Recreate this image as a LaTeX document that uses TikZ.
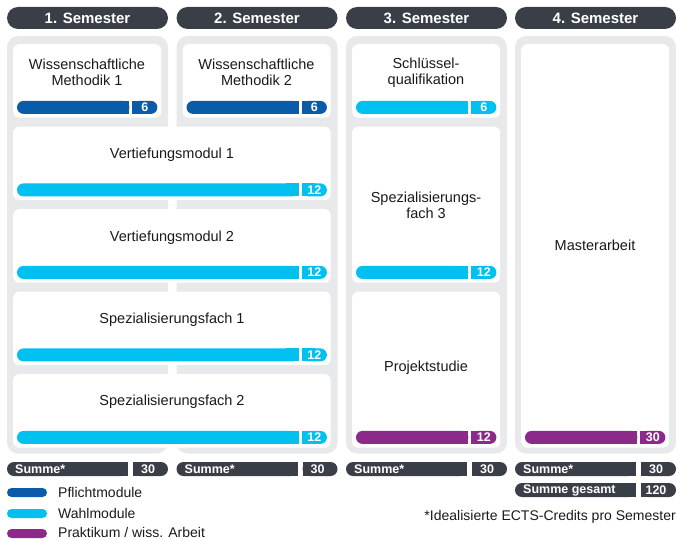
\documentclass[tikz,border=0pt]{standalone}
\usepackage{fontspec}
\setmainfont{Liberation Sans}
\definecolor{headgray}{HTML}{3A3F47}
\definecolor{panelgray}{HTML}{E8E9EB}
\definecolor{pflicht}{HTML}{0A5CA8}
\definecolor{wahl}{HTML}{00C0F0}
\definecolor{praktikum}{HTML}{8C2A8C}
\definecolor{cardtext}{HTML}{1A1A1A}
\tikzset{
  panel/.style={fill=panelgray, rounded corners=11pt},
  card/.style={fill=white, rounded corners=6pt, inner sep=0pt, anchor=north west},
  modtext/.style={align=center, text=cardtext, font=\fontsize{14.5}{15.7}\selectfont, inner sep=0pt},
  credit/.style={text=white, font=\bfseries\fontsize{12.5}{12.5}\selectfont, inner sep=0pt},
  headtext/.style={text=white, font=\bfseries\fontsize{15}{15}\selectfont, inner sep=0pt},
  sumtext/.style={text=white, font=\bfseries\fontsize{12.5}{12.5}\selectfont, inner sep=0pt},
  legtext/.style={text=cardtext, font=\fontsize{14}{14}\selectfont, inner sep=0pt, anchor=base west}
}
% credit bar at the foot of a card
\newcommand{\ectsbar}[3]{%
  \fill[#2, rounded corners=6.5pt] ([shift={(4pt,4pt)}]#1.south west) rectangle ([shift={(-32pt,17pt)}]#1.south east);
  \fill[#2] ([shift={(-45pt,4pt)}]#1.south east) rectangle ([shift={(-32pt,17pt)}]#1.south east);
  \fill[#2, rounded corners=6.5pt] ([shift={(-29pt,4pt)}]#1.south east) rectangle ([shift={(-4pt,17pt)}]#1.south east);
  \fill[#2] ([shift={(-29pt,4pt)}]#1.south east) rectangle ([shift={(-16pt,17pt)}]#1.south east);
  \node[credit] (#1n) at ([shift={(-16.5pt,10.5pt)}]#1.south east) {#3};
}
\begin{document}
\begin{tikzpicture}[x=1pt,y=-1pt]
\useasboundingbox (0,0) rectangle (676,540);

% headers and panels
\foreach \i/\x in {1/7,2/176.5,3/346,4/515} {
  \fill[headgray, rounded corners=11pt] (\x,7) rectangle ++(161,22);
  \node[headtext] (head\i) at (\x+80.5,18) {\i. Semester};
  \path[panel] (\x,36) rectangle ++(161,417.5);
}

% cards
\node[card, minimum width=148pt, minimum height=73.5pt] (wm1) at (13,44) {};
\node[card, minimum width=148pt, minimum height=73.5pt] (wm2) at (182.5,44) {};
\node[card, minimum width=148pt, minimum height=73.5pt] (sq) at (352,44) {};
\node[card, minimum width=317.5pt, minimum height=73.5pt] (vm1) at (13,126.5) {};
\node[card, minimum width=317.5pt, minimum height=73.5pt] (vm2) at (13,209) {};
\node[card, minimum width=317.5pt, minimum height=73.5pt] (sf1) at (13,291.5) {};
\node[card, minimum width=317.5pt, minimum height=73.5pt] (sf2) at (13,374) {};
\node[card, minimum width=148pt, minimum height=156pt] (sf3) at (352,126.5) {};
\node[card, minimum width=148pt, minimum height=156pt] (proj) at (352,291.5) {};
\node[card, minimum width=148pt, minimum height=403.5pt] (master) at (521,44) {};

% module names
\node[modtext] (wm1t) at (87,72.5) {Wissenschaftliche\\Methodik 1};
\node[modtext] (wm2t) at (256.5,72.5) {Wissenschaftliche\\Methodik 2};
\node[modtext] (sqt) at (426,72.5) {Schlüssel-\\qualifikation};
\node[modtext] (vm1t) at (172,155) {Vertiefungsmodul 1};
\node[modtext] (vm2t) at (172,237.5) {Vertiefungsmodul 2};
\node[modtext] (sf1t) at (172,320) {Spezialisierungsfach 1};
\node[modtext] (sf2t) at (172,402) {Spezialisierungsfach 2};
\node[modtext] (sf3t) at (426,205) {Spezialisierungs-\\fach 3};
\node[modtext] (projt) at (426,368) {Projektstudie};
\node[modtext] (mastert) at (595,245) {Masterarbeit};

% credit bars
\ectsbar{wm1}{pflicht}{6}
\ectsbar{wm2}{pflicht}{6}
\ectsbar{sq}{wahl}{6}
\ectsbar{vm1}{wahl}{12}
\ectsbar{vm2}{wahl}{12}
\ectsbar{sf1}{wahl}{12}
\ectsbar{sf2}{wahl}{12}
\ectsbar{sf3}{wahl}{12}
\ectsbar{proj}{praktikum}{12}
\ectsbar{master}{praktikum}{30}

% sums
\foreach \i/\x in {1/7,2/176.5,3/346,4/515} {
  \fill[headgray, rounded corners=7pt] (\x,462) rectangle ++(121,14);
  \fill[headgray] (\x+100,462) rectangle ++(21,14);
  \fill[headgray, rounded corners=7pt] (\x+126,462) rectangle ++(35,14);
  \fill[headgray] (\x+126,462) rectangle ++(20,14);
  \node[sumtext, anchor=west] (summe\i) at (\x+8,469) {Summe*};
  \node[sumtext] (summen\i) at (\x+141,469) {30};
}
\fill[headgray, rounded corners=7pt] (515,483) rectangle (636,497);
\fill[headgray] (615,483) rectangle (636,497);
\fill[headgray, rounded corners=7pt] (641,483) rectangle (676,497);
\fill[headgray] (641,483) rectangle (661,497);
\node[sumtext, anchor=west] (gesamt) at (523,490) {Summe gesamt};
\node[sumtext] (gesamtn) at (656,490) {120};

% legend
\fill[pflicht, rounded corners=4.5pt] (7,488) rectangle (47,497);
\fill[wahl, rounded corners=4.5pt] (7,509) rectangle (47,518);
\fill[praktikum, rounded corners=4.5pt] (7,529) rectangle (47,538);
\node[legtext] (leg1) at (58,497.5) {Pflichtmodule};
\node[legtext] (leg2) at (58,518.5) {Wahlmodule};
\node[legtext] (leg3) at (58,537.5) {Praktikum / wiss. Arbeit};
\node[legtext, anchor=base east] (fussnote) at (676,520) {*Idealisierte ECTS-Credits pro Semester};
\end{tikzpicture}
\end{document}
